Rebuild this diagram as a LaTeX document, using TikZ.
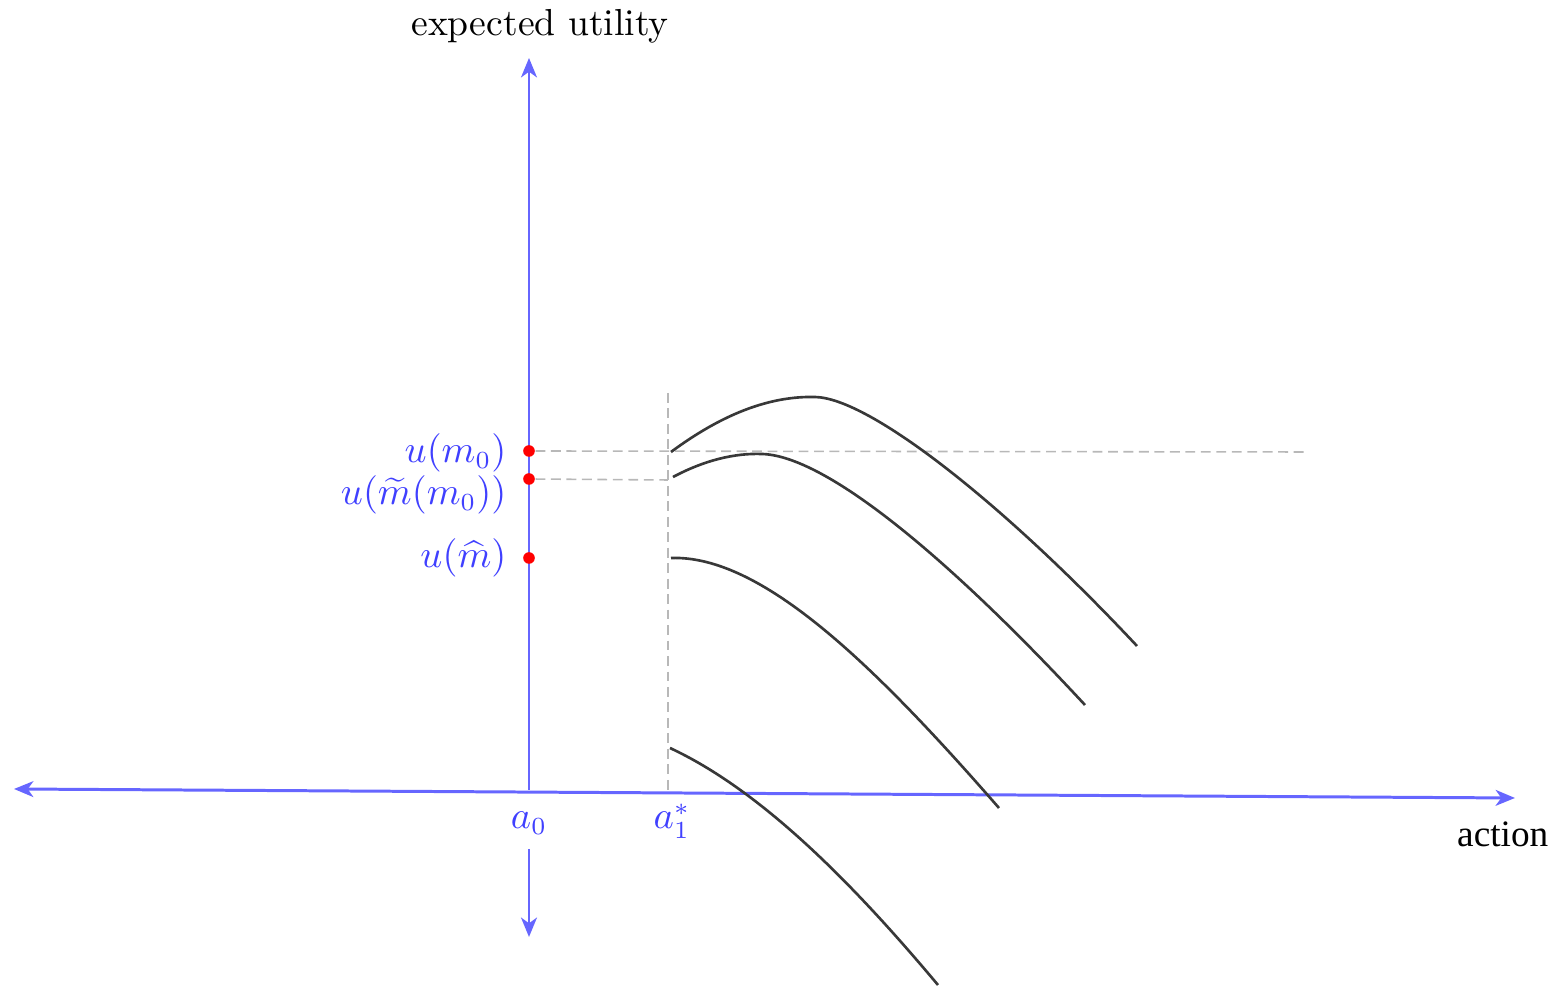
\documentclass[tikz,border=0pt]{standalone}
\usepackage{fontspec}
\newfontfamily\timesfont{Liberation Serif}
\usetikzlibrary{arrows.meta}
\begin{document}
\begin{tikzpicture}[x=0.01cm,y=-0.01cm,
  tip/.tip={Stealth[length=5.5pt,width=4.5pt,inset=1.6pt]},
  axis/.style={draw=blue!60, line width=0.85pt, -tip},
  guide/.style={draw=black!28, line width=0.45pt, dash pattern=on 2.8pt off 1.6pt},
  curve/.style={draw=black!78, line width=0.75pt},
  dot/.style={circle, fill=red, inner sep=0pt, minimum size=3.3pt},
  lab/.style={text=blue!75, font=\fontsize{10.7}{12}\selectfont, inner sep=0pt}]
\useasboundingbox (0,0) rectangle (1556,986);
% axes
\coordinate (L) at (14,789);
\coordinate (R) at (1515,798);
\coordinate (O) at (529,790);
\coordinate (T) at (529,58);
\coordinate (B) at (529,937);
\draw[axis, tip-tip] (L) -- (R);
\draw[axis] (O) -- (T);
\node[lab, anchor=base] (a0) at (529,829) {$a_0$};
\draw[axis] (529,849) -- (B);
\node[lab, anchor=base] (a1) at (672,829) {$a_1^*$};
\node[font=\fontsize{10.7}{12}\selectfont, inner sep=0pt, anchor=base] (eu) at (540,36) {expected utility};
\node[font=\timesfont\fontsize{10.6}{12}\selectfont, inner sep=0pt, anchor=base east] (act) at (1549,847) {action};
% guides
\coordinate (g0) at (1307,452);
\coordinate (v1) at (668,393);
\coordinate (v2) at (668,790);
\coordinate (h2) at (668,480);
\draw[guide] (v1) -- (v2);
% dots
\node[dot] (d1) at (529,451) {};
\node[dot] (d2) at (529,479) {};
\node[dot] (d3) at (529,558) {};
\draw[guide] (d1) -- (g0);
\draw[guide] (d2) -- (h2);
% labels
\node[lab, anchor=east] (l1) at (507,453) {$u(m_0)$};
\node[lab, anchor=east] (l2) at (507,495) {$u(\widetilde{m}(m_0))$};
\node[lab, anchor=east] (l3) at (507,558) {$u(\widehat{m})$};
% curves
\draw[curve] (671,452) .. controls (725,412) and (772,396) .. (815,397)
  .. controls (870,398) and (1005,505) .. (1137,646);
\draw[curve] (673,477) .. controls (705,460) and (735,453) .. (762,454)
  .. controls (830,456) and (960,570) .. (1085,705);
\draw[curve] (671,558) .. controls (760,555) and (870,660) .. (999,808);
\draw[curve] (670,748) .. controls (760,790) and (850,880) .. (938,985);
\end{tikzpicture}
\end{document}
